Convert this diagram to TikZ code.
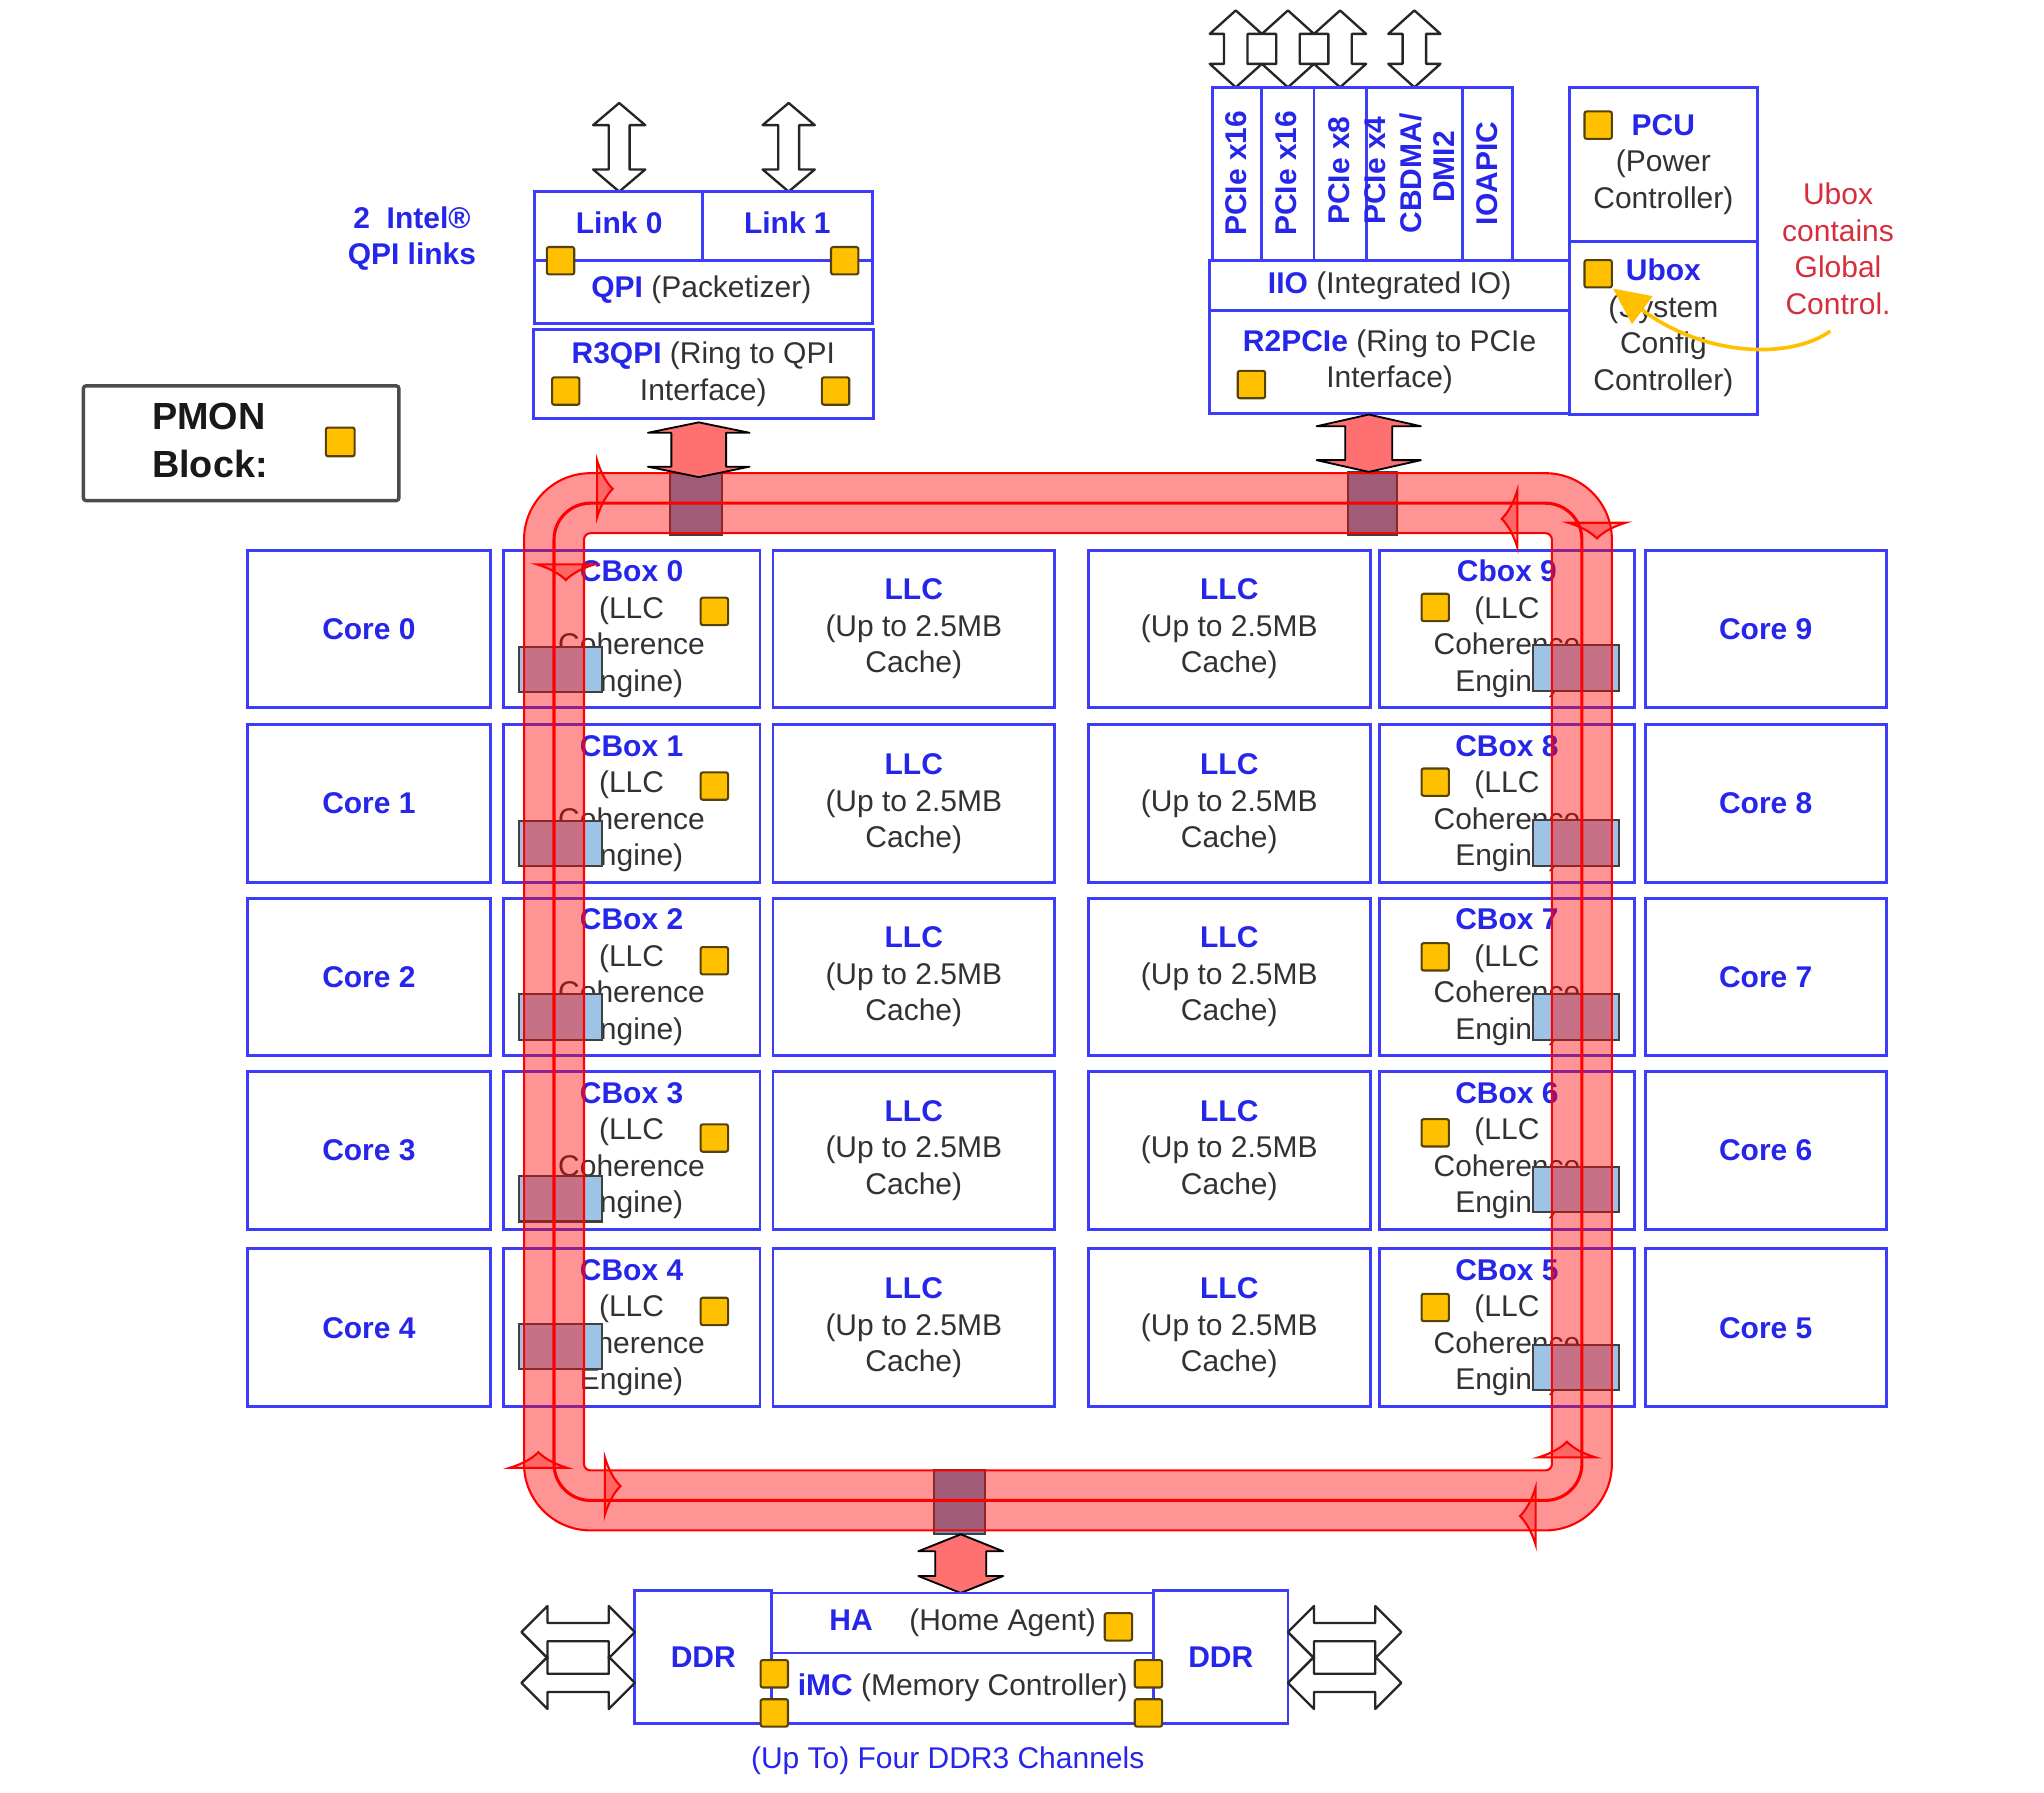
\documentclass[tikz,border=0pt]{standalone}
\usepackage{fontspec}
\setmainfont{Liberation Sans}
\usetikzlibrary{arrows.meta}

\definecolor{tblue}{RGB}{38,38,235}
\definecolor{boxblue}{RGB}{60,60,250}
\definecolor{tgray}{RGB}{50,50,50}
\definecolor{pmonyel}{RGB}{255,192,0}
\definecolor{pmonedge}{RGB}{85,65,10}
\definecolor{stopblue}{RGB}{157,195,230}
\definecolor{stopdeep}{RGB}{92,158,205}
\definecolor{linkpink}{RGB}{255,112,112}
\definecolor{notered}{RGB}{215,45,60}

\newcommand{\bluebf}[1]{\textcolor{tblue}{\bfseries #1}}

% vertical block arrow with two heads: [style]{cx}{ytop}{ybot}{half shaft}{half head}{head length}
\newcommand{\vblock}[7][]{%
  \draw[#1] (#2,#3) -- ({#2+#6},{#3+#7}) -- ({#2+#5},{#3+#7}) -- ({#2+#5},{#4-#7})
    -- ({#2+#6},{#4-#7}) -- (#2,#4) -- ({#2-#6},{#4-#7}) -- ({#2-#5},{#4-#7})
    -- ({#2-#5},{#3+#7}) -- ({#2-#6},{#3+#7}) -- cycle;}
% horizontal block arrow with two heads: [style]{cy}{xleft}{xright}{half shaft}{half head}{head length}
\newcommand{\hblock}[7][]{%
  \draw[#1] (#3,#2) -- ({#3+#7},{#2-#6}) -- ({#3+#7},{#2-#5}) -- ({#4-#7},{#2-#5})
    -- ({#4-#7},{#2-#6}) -- (#4,#2) -- ({#4-#7},{#2+#6}) -- ({#4-#7},{#2+#5})
    -- ({#3+#7},{#2+#5}) -- ({#3+#7},{#2+#6}) -- cycle;}

\tikzset{
  lbl/.style={font=\fontsize{11.5}{14}\selectfont, text=tgray, inner sep=0pt, align=center},
  boxline/.style={draw=boxblue, line width=1.1pt},
  cell/.style={boxline, lbl, minimum height=60.5pt},
  blk/.style={boxline, lbl},
  pm/.style={draw=pmonedge, fill=pmonyel, line width=0.8pt, minimum size=10.5pt, inner sep=0pt, rounded corners=0.8pt},
  stopbox/.style={draw=black!75, line width=0.8pt, inner sep=0pt, fill=stopblue, minimum width=32pt, minimum height=17.5pt},
  topstop/.style={stopbox, fill=stopdeep, minimum width=20pt, minimum height=24pt},
  hollowarrow/.style={draw=black!85, fill=white, line width=0.9pt, line join=round},
  linkarrow/.style={draw=black, fill=linkpink, line width=0.7pt, line join=round},
  ringhead/.style={draw=red, line width=0.8pt, fill=red, fill opacity=0.3},
  ringtip/.pic={\path[ringhead] (-6,-22) .. controls (-2,-9) and (3,-3) .. (6,0)
                 .. controls (3,3) and (-2,9) .. (-6,22) -- cycle;},
}

\begin{document}
\begin{tikzpicture}[x=0.5pt,y=-0.5pt]
\useasboundingbox (0,0) rectangle (1568,1375);

% ---------- legend ----------
\node[draw=black!70, line width=1.3pt, minimum width=121pt, minimum height=44pt, rounded corners=1pt] (pmon) at (185,340) {};
\node[font=\fontsize{14.5}{18.5}\selectfont\bfseries, align=left, inner sep=0pt, text=black!90] (pmontxt) at (161,338) {PMON\\Block:};
\node[pm, minimum size=11pt] (pmonsq) at (261,339) {};

\node[lbl, font=\fontsize{11.5}{14}\selectfont\bfseries, text=tblue] (qpilinks) at (316,183) {2~~Intel®\\QPI links};

% ---------- QPI agent ----------
\vblock[hollowarrow]{475}{79}{147}{8}{20}{17}
\vblock[hollowarrow]{605}{79}{147}{8}{20}{17}

\node[blk, minimum width=129.5pt, minimum height=50.5pt] (qpi) at (539.5,197.5) {};
\draw[boxline] (539,147) -- (539,200);
\draw[boxline] (410,200) -- (669,200);
\node[lbl] (link0) at (475,171) {\bluebf{Link 0}};
\node[lbl] (link1) at (604,171) {\bluebf{Link 1}};
\node[lbl] (qpitxt) at (538,222) {\bluebf{QPI} (Packetizer)};
\node[pm] (qsq0) at (430,200) {};
\node[pm] (qsq1) at (648,200) {};

\node[blk, minimum width=130.5pt, minimum height=34pt] (r3qpi) at (539.5,287) {\bluebf{R3QPI} (Ring to QPI\\Interface)};
\node[pm] (rsq0) at (434,300) {};
\node[pm] (rsq1) at (641,300) {};

% ---------- IIO ----------
\foreach \ax in {948,988,1028,1085} {
  \vblock[hollowarrow]{\ax}{8}{67}{9}{20}{18}
}

\node[blk, minimum width=19pt, minimum height=66.5pt] (col1) at (949,133.5) {};
\node[blk, minimum width=20pt, minimum height=66.5pt] (col2) at (988,133.5) {};
\node[blk, minimum width=20pt, minimum height=66.5pt] (col3) at (1028,133.5) {};
\node[blk, minimum width=37pt, minimum height=66.5pt] (col4) at (1085,133.5) {};
\node[blk, minimum width=19pt, minimum height=66.5pt] (col5) at (1141,133.5) {};
\node[lbl, rotate=90] (t1) at (948,133) {\bluebf{PCIe x16}};
\node[lbl, rotate=90] (t2) at (987,133) {\bluebf{PCIe x16}};
\node[lbl, rotate=90] (t3) at (1027,131) {\bluebf{PCIe x8}};
\node[lbl, rotate=90] (t4) at (1055,131) {\bluebf{PCIe x4}};
\node[lbl, rotate=90] (t5) at (1082,133) {\bluebf{CBDMA/}};
\node[lbl, rotate=90] (t6) at (1108,128) {\bluebf{DMI2}};
\node[lbl, rotate=90] (t7) at (1141,133) {\bluebf{IOAPIC}};

\node[blk, minimum width=138pt, minimum height=19pt] (iio) at (1066,219) {\bluebf{IIO} (Integrated IO)};
\node[blk, minimum width=138pt, minimum height=39.5pt] (r2pcie) at (1066,277.5) {\bluebf{R2PCIe} (Ring to PCIe\\Interface)};
\node[pm] (psq) at (960,295) {};

% ---------- PCU / Ubox ----------
\node[blk, minimum width=72pt, minimum height=59pt] (pcu) at (1276,126) {\bluebf{PCU}\\(Power\\Controller)};
\node[pm] (pcusq) at (1226,96) {};
\node[blk, minimum width=72pt, minimum height=66.5pt] (ubox) at (1276,251.5) {\bluebf{Ubox}\\(System\\Config\\Controller)};
\node[pm] (usq) at (1226,210) {};

\node[lbl, text=notered] (note) at (1410,191) {Ubox\\contains\\Global\\Control.};
\coordinate (notefoot) at (1404,254);
\draw[draw=pmonyel, line width=1.4pt, -{Triangle[length=14pt,width=13pt,fill=pmonyel]}]
  (notefoot) .. controls (1375,275) and (1310,275) .. (usq.south east);

% ---------- core / LLC grid ----------
\foreach \l/\rt/\y/\sl/\sr/\ql/\qr/\rname in {
    0/9/482.5/513.5/512.5/469/466/Cbox 9,
    1/8/616.5/647/646.5/603/600/CBox 8,
    2/7/749.5/780/780/737/734/CBox 7,
    3/6/882.5/919.5/912.5/873/869/CBox 6,
    4/5/1018.5/1033/1049/1006/1003/CBox 5} {
  \node[cell, minimum width=93pt] (core\l) at (283,\y) {\bluebf{Core \l}};
  \node[cell, minimum width=98.5pt] (cbox\l) at (484.5,\y) {\bluebf{CBox \l}\\(LLC\\Coherence\\Engine)};
  \node[cell, minimum width=108pt] (llcA\l) at (701,\y) {\bluebf{LLC}\\(Up to 2.5MB\\Cache)};
  \node[cell, minimum width=108pt] (llcB\l) at (943,\y) {\bluebf{LLC}\\(Up to 2.5MB\\Cache)};
  \node[cell, minimum width=98pt] (cbox\rt) at (1156,\y) {\bluebf{\rname}\\(LLC\\Coherence\\Engine)};
  \node[cell, minimum width=92.5pt] (core\rt) at (1354.5,\y) {\bluebf{Core \rt}};
  \node[pm] (cbsq\l) at (548,\ql) {};
  \node[pm] (cbsq\rt) at (1101,\qr) {};
  \node[stopbox] (stop\l) at (430,\sl) {};
  \node[stopbox, minimum width=33pt] (stop\rt) at (1209,\sr) {};
}

% ring stops of the uncore agents
\node[topstop] (stopq) at (534,386) {};
\node[topstop, minimum width=19pt] (stopp) at (1053,386) {};
\node[topstop, minimum width=19.5pt, minimum height=24.5pt] (stoph) at (736,1152.5) {};

% ---------- bidirectional ring ----------
\draw[red, line width=23pt, draw opacity=0.42, rounded corners=14pt] (425,386) rectangle (1213.5,1151);
\draw[red, line width=0.8pt, rounded corners=25.5pt] (402,363) rectangle (1236.5,1174);
\draw[red, line width=0.8pt, rounded corners=2.5pt] (448,409) rectangle (1190.5,1128);
\draw[red, line width=1.2pt, rounded corners=14pt] (425,386) rectangle (1213.5,1151);

\pic at (464,375) {ringtip};
\pic[rotate=-90] at (434,439) {ringtip};
\pic[rotate=180] at (1158,398) {ringtip};
\pic[rotate=-90] at (1225,407) {ringtip};
\pic[rotate=90] at (1202,1112) {ringtip};
\pic[rotate=180] at (1172,1163) {ringtip};
\pic[rotate=90] at (413,1120) {ringtip};
\pic at (470,1140) {ringtip};

% agent-to-ring links
\vblock[linkarrow]{536}{324}{366}{21}{39}{8}
\vblock[linkarrow]{1050}{318}{362}{18}{40}{9}
\vblock[linkarrow]{737}{1177}{1222}{19.5}{32.5}{13}

% ---------- memory controller ----------
\node[blk, minimum width=52.5pt, minimum height=51pt] (ddrL) at (539.5,1271) {\bluebf{DDR}};
\node[blk, minimum width=146.5pt, minimum height=23pt] (ha) at (738.5,1245) {\bluebf{HA}\hspace{14pt}(Home Agent)};
\node[blk, minimum width=146.5pt, minimum height=27pt] (imc) at (738.5,1295) {\bluebf{iMC} (Memory Controller)};
\node[blk, minimum width=51.5pt, minimum height=51pt] (ddrR) at (936.5,1271) {\bluebf{DDR}};
\node[pm] (hasq) at (858,1248) {};
\node[pm] (msq1) at (594,1284) {};
\node[pm] (msq2) at (594,1314) {};
\node[pm] (msq3) at (881,1284) {};
\node[pm] (msq4) at (881,1314) {};

\hblock[hollowarrow]{1252}{400}{487}{7}{20}{20}
\hblock[hollowarrow]{1291}{400}{487}{7}{20}{20}
\hblock[hollowarrow]{1252}{988}{1075}{7}{20}{20}
\hblock[hollowarrow]{1291}{988}{1075}{7}{20}{20}

\node[lbl, text=tblue] (chan) at (727,1351) {(Up To) Four DDR3 Channels};

\end{tikzpicture}
\end{document}
